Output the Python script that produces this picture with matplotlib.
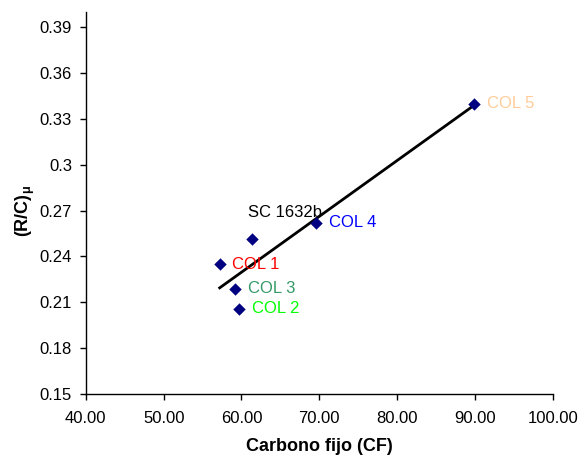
import numpy as np
import matplotlib
matplotlib.use("Agg")
import matplotlib.pyplot as plt

# -----------------------------
# Data
# -----------------------------
labels = ["COL 1", "COL 2", "COL 3", "COL 4", "COL 5", "SC 1632b"]
carbono_fijo = [57.2, 59.7, 59.2, 69.6, 89.9, 61.4]
rc_mu = [0.235, 0.2057, 0.2189, 0.262, 0.340, 0.2516]
label_colors = ["#FF0000", "#00FF00", "#339966", "#0000FF", "#FFCC99", "#000000"]

x_ticks = [40, 50, 60, 70, 80, 90, 100]
y_ticks = [0.15, 0.18, 0.21, 0.24, 0.27, 0.30, 0.33, 0.36, 0.39]
y_tick_labels = ["0.15", "0.18", "0.21", "0.24", "0.27", "0.3", "0.33", "0.36", "0.39"]

plt.rcParams["font.family"] = ["Liberation Sans", "DejaVu Sans"]
plt.rcParams["mathtext.fontset"] = "custom"
plt.rcParams["mathtext.rm"] = "Liberation Sans"
plt.rcParams["mathtext.bf"] = "Liberation Sans:bold"

fig = plt.figure(figsize=(5.88, 4.61), dpi=100)
ax = fig.add_axes([0.146, 0.1453, 0.794, 0.829])

x = np.array(carbono_fijo)
y = np.array(rc_mu)

# linear trendline over all points
slope, intercept = np.polyfit(x, y, 1)
xs = np.array([x.min(), x.max()])
ax.plot(xs, slope * xs + intercept, color="black", lw=2.0, zorder=2)

ax.scatter(x, y, marker="D", s=40, color="#000080", zorder=3, linewidths=0)

# point labels
for xi, yi, lab, col in zip(x, y, labels, label_colors):
    if lab == "SC 1632b":
        ax.annotate(lab, (xi, yi), xytext=(-3, 19), textcoords="offset points",
                    color=col, fontsize=12, ha="left", va="center")
    else:
        ax.annotate(lab, (xi, yi), xytext=(9, 0), textcoords="offset points",
                    color=col, fontsize=12, ha="left", va="center")

ax.set_xlim(40, 100)
ax.set_ylim(0.15, 0.40)
ax.set_xticks(x_ticks)
ax.set_xticklabels([f"{v:.2f}" for v in x_ticks], fontsize=12)
ax.set_yticks(y_ticks)
ax.set_yticklabels(y_tick_labels, fontsize=12)

for side in ["top", "right"]:
    ax.spines[side].set_visible(False)
for side in ["left", "bottom"]:
    ax.spines[side].set_linewidth(1.0)
ax.tick_params(axis="x", direction="out", length=4, width=1.0, pad=8)
ax.tick_params(axis="y", direction="out", length=4, width=1.0, pad=6)

ax.set_xlabel("Carbono fijo (CF)", fontsize=13, fontweight="bold", labelpad=9)
ax.set_ylabel(r"$\mathbf{(R/C)_{\mu}}$", fontsize=13)
ax.yaxis.set_label_coords(-0.104, 0.48)

fig.savefig("out.png", dpi=100)
plt.close(fig)
